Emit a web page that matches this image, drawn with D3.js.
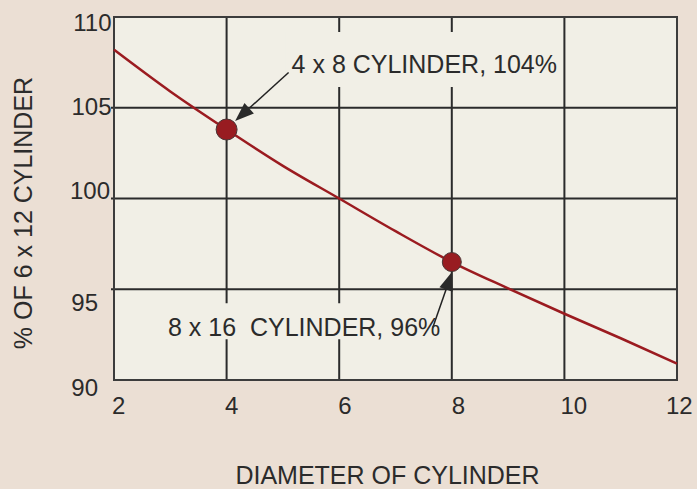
<!DOCTYPE html>
<html>
<head>
<meta charset="utf-8">
<script src="https://cdn.jsdelivr.net/npm/d3@7"></script>
<style>
  body { margin: 0; background: #ebdfd4; }
  svg { display: block; font-family: "Liberation Sans", Arial, sans-serif; }
</style>
</head>
<body>
<svg id="chart"></svg>
<script>
// data
var diameters = [2, 3, 4, 5, 6, 7, 8, 9, 10, 11, 12];
var percents  = [108.2, 105.9, 103.8, 101.8, 100, 98.2, 96.5, 95.05, 93.65, 92.3, 90.9];
var xTicks = [2, 4, 6, 8, 10, 12];
var yTicks = [90, 95, 100, 105, 110];
var markedD = [4, 8];
var markedP = [103.8, 96.5];
var markedText = ["4 x 8 CYLINDER, 104%", "8 x 16  CYLINDER, 96%"];
var xTitle = "DIAMETER OF CYLINDER";
var yTitle = "% OF 6 x 12 CYLINDER";

var width = 697, height = 489;
var margin = {top: 17, right: 20, bottom: 109, left: 114};

var svg = d3.select("#chart")
    .attr("width", width)
    .attr("height", height);

svg.append("rect")
    .attr("width", width)
    .attr("height", height)
    .attr("fill", "#ebdfd4");

var x = d3.scaleLinear()
    .domain([2, 12])
    .range([margin.left, width - margin.right]);

var y = d3.scaleLinear()
    .domain([90, 110])
    .range([height - margin.bottom, margin.top]);

var ink = "#2b2b2b";

// plot area
svg.append("rect")
    .attr("x", x(2))
    .attr("y", y(110))
    .attr("width", x(12) - x(2))
    .attr("height", y(90) - y(110))
    .attr("fill", "#f1efe6");

// grid
svg.selectAll("line.vgrid")
    .data(xTicks.slice(1, -1))
    .enter().append("line")
    .attr("class", "vgrid")
    .attr("x1", function(d) { return x(d); })
    .attr("x2", function(d) { return x(d); })
    .attr("y1", y(110))
    .attr("y2", y(90))
    .style("stroke", ink)
    .style("stroke-width", "2px");

svg.selectAll("line.hgrid")
    .data(yTicks.slice(1, -1))
    .enter().append("line")
    .attr("class", "hgrid")
    .attr("x1", x(2) - 3)
    .attr("x2", x(12))
    .attr("y1", function(d) { return y(d); })
    .attr("y2", function(d) { return y(d); })
    .style("stroke", ink)
    .style("stroke-width", "2px");

// frame
svg.append("rect")
    .attr("x", x(2))
    .attr("y", y(110))
    .attr("width", x(12) - x(2))
    .attr("height", y(90) - y(110))
    .attr("fill", "none")
    .style("stroke", "#3c3c3c")
    .style("stroke-width", "2px");

// annotation backgrounds hide the grid behind the labels
var boxes = [
    {x0: x(4) + 59, x1: x(10) - 2, y0: y(110) + 15, y1: y(110) + 70},
    {x0: x(2) + 46, x1: x(8) - 8, y0: y(95) + 14, y1: y(95) + 50}
];
svg.selectAll("rect.tagbg")
    .data(boxes)
    .enter().append("rect")
    .attr("class", "tagbg")
    .attr("x", function(d) { return d.x0; })
    .attr("y", function(d) { return d.y0; })
    .attr("width", function(d) { return d.x1 - d.x0; })
    .attr("height", function(d) { return d.y1 - d.y0; })
    .attr("fill", "#f1efe6");

// curve
var line = d3.line()
    .x(function(d, i) { return x(diameters[i]); })
    .y(function(d) { return y(d); })
    .curve(d3.curveMonotoneX);

svg.append("path")
    .datum(percents)
    .attr("d", line)
    .style("fill", "none")
    .style("stroke", "#9b1b20")
    .style("stroke-width", "2.5px");

// marked points
var marks = markedD.map(function(d, i) {
    return {d: d, p: markedP[i], text: markedText[i], r: i == 0 ? 10.5 : 9.5};
});

svg.selectAll("circle.mark")
    .data(marks)
    .enter().append("circle")
    .attr("class", "mark")
    .attr("cx", function(d) { return x(d.d); })
    .attr("cy", function(d) { return y(d.p); })
    .attr("r", function(d) { return d.r; })
    .attr("fill", "#981c21")
    .style("stroke", "#4a3535")
    .style("stroke-width", "1px");

// labels and arrows, placed relative to their point
var tagOffsets = [
    {tx: 65, ty: -56.5, anchor: "start", sx: 62, sy: -57, ex: 8.5, ey: -8.5},
    {tx: -11.5, ty: 73.5, anchor: "end", sx: -19, sy: 65.5, ex: 0.5, ey: 9.5}
];

marks.forEach(function(m, i) {
    var o = tagOffsets[i];
    var cx = x(m.d), cy = y(m.p);
    var x1 = cx + o.sx, y1 = cy + o.sy, x2 = cx + o.ex, y2 = cy + o.ey;
    var ang = Math.atan2(y2 - y1, x2 - x1);
    var len = 19, half = 7;
    var bx = x2 - len * Math.cos(ang), by = y2 - len * Math.sin(ang);

    svg.append("line")
        .attr("x1", x1).attr("y1", y1)
        .attr("x2", bx).attr("y2", by)
        .style("stroke", "#222")
        .style("stroke-width", "1.5px");

    svg.append("path")
        .attr("d", "M" + x2 + "," + y2 +
            "L" + (bx + half * Math.sin(ang)) + "," + (by - half * Math.cos(ang)) +
            "L" + (bx - half * Math.sin(ang)) + "," + (by + half * Math.cos(ang)) + "Z")
        .attr("fill", "#2a2a2a");

    svg.append("text")
        .attr("x", cx + o.tx)
        .attr("y", cy + o.ty)
        .attr("text-anchor", o.anchor)
        .style("white-space", "pre")
        .style("font-size", "25px")
        .style("fill", ink)
        .text(m.text);
});

// tick labels (nudged as in the original)
var xNudge = [-2, -1.5, -1, 0, -4, -11];
svg.selectAll("text.xtick")
    .data(xTicks)
    .enter().append("text")
    .attr("class", "xtick")
    .attr("x", function(d, i) { return x(d) + xNudge[i]; })
    .attr("y", y(90) + 33.5)
    .attr("text-anchor", "start")
    .style("font-size", "24px")
    .style("fill", ink)
    .text(function(d) { return d; });

var yNudge = {90: [98, 16], 95: [98, 22], 100: [110, 0], 105: [111.5, 7], 110: [111.5, 14]};
svg.selectAll("text.ytick")
    .data(yTicks)
    .enter().append("text")
    .attr("class", "ytick")
    .attr("x", function(d) { return yNudge[d][0]; })
    .attr("y", function(d) { return y(d) + yNudge[d][1]; })
    .attr("text-anchor", "end")
    .style("font-size", "24px")
    .style("fill", ink)
    .text(function(d) { return d; });

// axis titles
svg.append("text")
    .attr("x", 387.5)
    .attr("y", 484)
    .attr("text-anchor", "middle")
    .style("font-size", "25px")
    .style("fill", ink)
    .text(xTitle);

svg.append("text")
    .attr("transform", "translate(32,213) rotate(-90)")
    .attr("text-anchor", "middle")
    .style("font-size", "25px")
    .style("fill", ink)
    .text(yTitle);
</script>
</body>
</html>
